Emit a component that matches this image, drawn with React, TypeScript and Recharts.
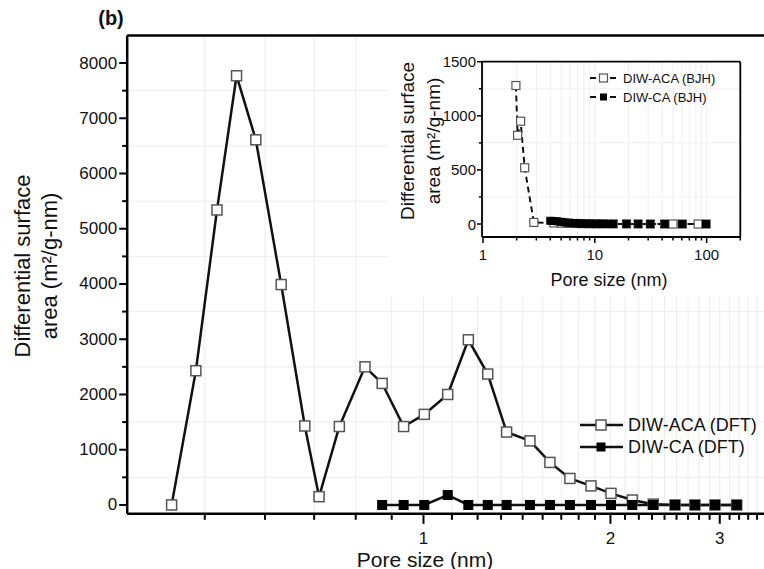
import React from 'react';
import { LineChart, Line, XAxis, YAxis, ReferenceLine, Legend, CartesianGrid } from 'recharts';

// ---------- Main chart data (DFT) ----------
const dftAcaPoreSize = [0.393, 0.43, 0.465, 0.5, 0.537, 0.59, 0.644, 0.679, 0.732, 0.805, 0.858, 0.929, 1.003, 1.094, 1.181, 1.269, 1.361, 1.484, 1.598, 1.721, 1.861, 2.004, 2.169, 2.344, 2.541, 2.736, 2.947, 3.194];
const dftAcaArea = [0, 2430, 5340, 7770, 6610, 3990, 1430, 150, 1420, 2500, 2200, 1420, 1640, 2000, 2990, 2370, 1320, 1160, 770, 480, 345, 210, 90, 15, 0, 0, 0, 0];
const dftCaPoreSize = [0.858, 0.929, 1.003, 1.094, 1.181, 1.269, 1.361, 1.484, 1.598, 1.721, 1.861, 2.004, 2.169, 2.344, 2.541, 2.736, 2.947, 3.194];
const dftCaArea = [0, 0, 0, 180, 0, 0, 0, 0, 0, 0, 0, 0, 0, 0, 0, 0, 0, 0];
const dftSeriesNames = ['DIW-ACA (DFT)', 'DIW-CA (DFT)'];

// ---------- Inset data (BJH) ----------
const bjhAcaPoreSize = [1.97, 2.04, 2.17, 2.36, 2.85, 4.3, 5.0, 5.8, 6.7, 7.7, 8.9, 10.3, 12.0, 14.6, 19.2, 24.4, 31.4, 42.1, 50, 60.6, 84, 98.9];
const bjhAcaArea = [1280, 820, 950, 520, 15, 10, 8, 6, 5, 4, 3, 2, 2, 1, 1, 1, 0, 0, 0, 0, 0, 0];
const bjhCaPoreSize = [4.0, 4.3, 4.6, 5.0, 5.4, 5.8, 6.2, 6.7, 7.2, 7.7, 8.3, 8.9, 9.6, 10.3, 11.1, 12.0, 13.2, 14.6, 19.2, 24.4, 31.4, 42.1, 60.6, 98.9];
const bjhCaArea = [30, 28, 25, 20, 15, 12, 9, 7, 5, 4, 3, 3, 2, 2, 2, 1, 1, 1, 1, 0, 0, 0, 0, 0];
const bjhSeriesNames = ['DIW-ACA (BJH)', 'DIW-CA (BJH)'];

// ---------- Tick values ----------
const mainXMajor = [1, 2, 3];
const mainXMinor: number[] = [];
for (let k = 4; k <= 8; k++) mainXMinor.push(k / 9);
for (let k = 1; k <= 8; k++) mainXMinor.push(1 + k / 9);
for (let k = 1; k <= 8; k++) mainXMinor.push(2 + k / 9);
for (let k = 1; k <= 4; k++) mainXMinor.push(3 + k / 9);
const mainXTicks = [...mainXMinor, ...mainXMajor].sort((a, b) => a - b);
const mainYMajor = [0, 1000, 2000, 3000, 4000, 5000, 6000, 7000, 8000];
const mainYMinor = [500, 1500, 2500, 3500, 4500, 5500, 6500, 7500];
const mainYTicks = [...mainYMajor, ...mainYMinor].sort((a, b) => a - b);

const insetXMajor = [1, 10, 100];
const insetXMinor = [2, 3, 4, 5, 6, 7, 8, 9, 20, 30, 40, 50, 60, 70, 80, 90, 200];
const insetXTicks = [...insetXMajor, ...insetXMinor].sort((a, b) => a - b);
const insetYMajor = [0, 500, 1000, 1500];
const insetYMinor = [250, 750, 1250];
const insetYTicks = [...insetYMajor, ...insetYMinor].sort((a, b) => a - b);

const zip = (xs: number[], ys: number[]) => xs.map((x, i) => ({ x, y: ys[i] }));
const acaDft = zip(dftAcaPoreSize, dftAcaArea);
const caDft = zip(dftCaPoreSize, dftCaArea);
const acaBjh = zip(bjhAcaPoreSize, bjhAcaArea);
const caBjh = zip(bjhCaPoreSize, bjhCaArea);

const isIn = (arr: number[], v: number) => arr.some((m) => Math.abs(m - v) < 1e-6);

// ---------- Tick renderers ----------
const MainXTick = (props: any) => {
  const { x, y, payload } = props;
  const major = isIn(mainXMajor, payload.value);
  return (
    <g>
      <line x1={x} x2={x} y1={y} y2={y + (major ? 10 : 6)} stroke="#000" strokeWidth={2} />
      {major && (
        <text x={x} y={y + 25} textAnchor="middle" dominantBaseline="central" fontSize={17} fill="#111">
          {payload.value}
        </text>
      )}
    </g>
  );
};

const MainYTick = (props: any) => {
  const { x, y, payload } = props;
  const major = isIn(mainYMajor, payload.value);
  return (
    <g>
      <line x1={x - (major ? 8 : 5)} x2={x} y1={y} y2={y} stroke="#000" strokeWidth={2} />
      {major && (
        <text x={x - 10} y={y} textAnchor="end" dominantBaseline="central" fontSize={17} fill="#111">
          {payload.value}
        </text>
      )}
    </g>
  );
};

const InsetXTick = (props: any) => {
  const { x, y, payload } = props;
  const major = isIn(insetXMajor, payload.value);
  return (
    <g>
      <line x1={x} x2={x} y1={y} y2={y + (major ? 6 : 3.5)} stroke="#000" strokeWidth={1.5} />
      {major && (
        <text x={x} y={y + 17} textAnchor="middle" dominantBaseline="central" fontSize={15} fill="#111">
          {payload.value}
        </text>
      )}
    </g>
  );
};

const InsetYTick = (props: any) => {
  const { x, y, payload } = props;
  const major = isIn(insetYMajor, payload.value);
  return (
    <g>
      <line x1={x - (major ? 5 : 3)} x2={x} y1={y} y2={y} stroke="#000" strokeWidth={1.5} />
      {major && (
        <text x={x - 6} y={y} textAnchor="end" dominantBaseline="central" fontSize={15} fill="#111">
          {payload.value}
        </text>
      )}
    </g>
  );
};

// ---------- Markers ----------
const hollowSquare = (size: number, sw: number) => (p: any) => {
  if (p.cx == null || p.cy == null) return <g key={p.index} />;
  return (
    <rect key={p.index} x={p.cx - size / 2} y={p.cy - size / 2} width={size} height={size}
      fill="#fff" stroke="#555" strokeWidth={sw} />
  );
};
const filledSquare = (size: number) => (p: any) => {
  if (p.cx == null || p.cy == null) return <g key={p.index} />;
  return (
    <rect key={p.index} x={p.cx - size / 2} y={p.cy - size / 2} width={size} height={size}
      fill="#000" stroke="#000" strokeWidth={1} />
  );
};

// ---------- Legends ----------
const MainLegend = () => (
  <svg width={200} height={50} style={{ overflow: 'visible' }}>
    {dftSeriesNames.map((name, i) => {
      const cy = 13 + i * 22;
      return (
        <g key={name}>
          <line x1={10} x2={53} y1={cy} y2={cy} stroke="#111" strokeWidth={2.5} />
          {i === 0 ? (
            <rect x={26} y={cy - 5} width={10} height={10} fill="#fff" stroke="#555" strokeWidth={1.5} />
          ) : (
            <rect x={26.5} y={cy - 4.5} width={9} height={9} fill="#000" />
          )}
          <text x={58} y={cy} dominantBaseline="central" fontSize={18} fill="#111">{name}</text>
        </g>
      );
    })}
  </svg>
);

const InsetLegend = () => (
  <svg width={150} height={40} style={{ overflow: 'visible' }}>
    {bjhSeriesNames.map((name, i) => {
      const cy = 8 + i * 19;
      return (
        <g key={name}>
          <line x1={2} x2={29} y1={cy} y2={cy} stroke="#111" strokeWidth={2} strokeDasharray="6 4" />
          {i === 0 ? (
            <rect x={11.5} y={cy - 4} width={8} height={8} fill="#fff" stroke="#555" strokeWidth={1.2} />
          ) : (
            <rect x={12} y={cy - 3.5} width={7} height={7} fill="#000" />
          )}
          <text x={35} y={cy} dominantBaseline="central" fontSize={13} fill="#111">{name}</text>
        </g>
      );
    })}
  </svg>
);

// ---------- Axis titles ----------
const MainYTitle = () => (
  <g>
    <text x={111} y={18} dominantBaseline="central" textAnchor="middle" fontSize={20} fontWeight="bold" fill="#111">(b)</text>
    <text transform="rotate(-90, 22, 266)" x={22} y={266} textAnchor="middle" dominantBaseline="central" fontSize={22} fill="#111">Differential surface</text>
    <text transform="rotate(-90, 49, 266)" x={49} y={266} textAnchor="middle" dominantBaseline="central" fontSize={22} fill="#111">area (m²/g-nm)</text>
  </g>
);
const MainXTitle = () => (
  <text x={425} y={559} textAnchor="middle" dominantBaseline="central" fontSize={21} fill="#111">Pore size (nm)</text>
);
const InsetYTitle = () => (
  <g>
    <text transform="rotate(-90, 19, 104)" x={19} y={104} textAnchor="middle" dominantBaseline="central" fontSize={19} fill="#111">Differential surface</text>
    <text transform="rotate(-90, 45, 104)" x={45} y={104} textAnchor="middle" dominantBaseline="central" fontSize={19} fill="#111">area (m²/g-nm)</text>
  </g>
);
const InsetXTitle = () => (
  <text x={221} y={243} textAnchor="middle" dominantBaseline="central" fontSize={18} fill="#111">Pore size (nm)</text>
);

export default function App() {
  return (
    <div style={{ position: 'absolute', left: 0, top: 0, width: 764, height: 569, overflow: 'hidden', background: '#fff', fontFamily: '"Liberation Sans", Arial, sans-serif' }}>
      <LineChart width={770} height={569} margin={{ top: 35.4, right: 4.4, bottom: 0, left: 0 }}>
        <CartesianGrid horizontalValues={mainYMinor} verticalValues={mainXTicks} stroke="#ececec" strokeWidth={1} />
        <XAxis dataKey="x" type="number" scale="log" domain={[1 / 3, 32 / 9]} allowDataOverflow
          ticks={mainXTicks} interval={0} tick={<MainXTick />} tickLine={false} tickSize={0} tickMargin={0}
          height={55.2} axisLine={{ stroke: '#000', strokeWidth: 2.5 }} label={<MainXTitle />} />
        <YAxis type="number" domain={[-160, 8500]} allowDataOverflow ticks={mainYTicks} interval={0}
          tick={<MainYTick />} tickLine={false} tickSize={0} tickMargin={0} width={127.2}
          axisLine={{ stroke: '#000', strokeWidth: 2.5 }} label={<MainYTitle />} />
        <ReferenceLine y={8500} stroke="#000" strokeWidth={2.5} />
        <Line data={acaDft} dataKey="y" name={dftSeriesNames[0]} stroke="#111" strokeWidth={2.5}
          dot={hollowSquare(10, 1.5)} isAnimationActive={false} />
        <Line data={caDft} dataKey="y" name={dftSeriesNames[1]} stroke="#111" strokeWidth={2.5}
          dot={filledSquare(9)} isAnimationActive={false} />
        <Legend layout="horizontal" verticalAlign="middle" align="center" content={<MainLegend />}
          wrapperStyle={{ left: 570, top: 412, width: 200 }} />
      </LineChart>

      <div style={{ position: 'absolute', left: 388, top: 37, width: 376, height: 260, background: '#fff' }}>
        <LineChart width={376} height={260} margin={{ top: 24.7, right: 23.7, bottom: 0, left: 0 }}>
          <CartesianGrid horizontalValues={insetYMinor} verticalValues={insetXTicks} stroke="#efefef" strokeWidth={1} />
          <XAxis dataKey="x" type="number" scale="log" domain={[0.98, 200]} allowDataOverflow
            ticks={insetXTicks} interval={0} tick={<InsetXTick />} tickLine={false} tickSize={0} tickMargin={0}
            height={60} axisLine={{ stroke: '#000', strokeWidth: 1.8 }} label={<InsetXTitle />} />
          <YAxis type="number" domain={[-120, 1500]} allowDataOverflow ticks={insetYTicks} interval={0}
            tick={<InsetYTick />} tickLine={false} tickSize={0} tickMargin={0} width={94}
            axisLine={{ stroke: '#000', strokeWidth: 1.8 }} label={<InsetYTitle />} />
          <ReferenceLine y={1500} stroke="#000" strokeWidth={1.8} />
          <ReferenceLine x={200} stroke="#000" strokeWidth={1.8} />
          <Line data={acaBjh} dataKey="y" name={bjhSeriesNames[0]} stroke="#111" strokeWidth={2}
            strokeDasharray="6 4" dot={hollowSquare(8, 1.2)} isAnimationActive={false} />
          <Line data={caBjh} dataKey="y" name={bjhSeriesNames[1]} stroke="#111" strokeWidth={2}
            strokeDasharray="6 4" dot={filledSquare(7)} isAnimationActive={false} />
          <Legend layout="horizontal" verticalAlign="middle" align="center" content={<InsetLegend />}
            wrapperStyle={{ left: 200, top: 33, width: 150 }} />
        </LineChart>
      </div>
    </div>
  );
}
